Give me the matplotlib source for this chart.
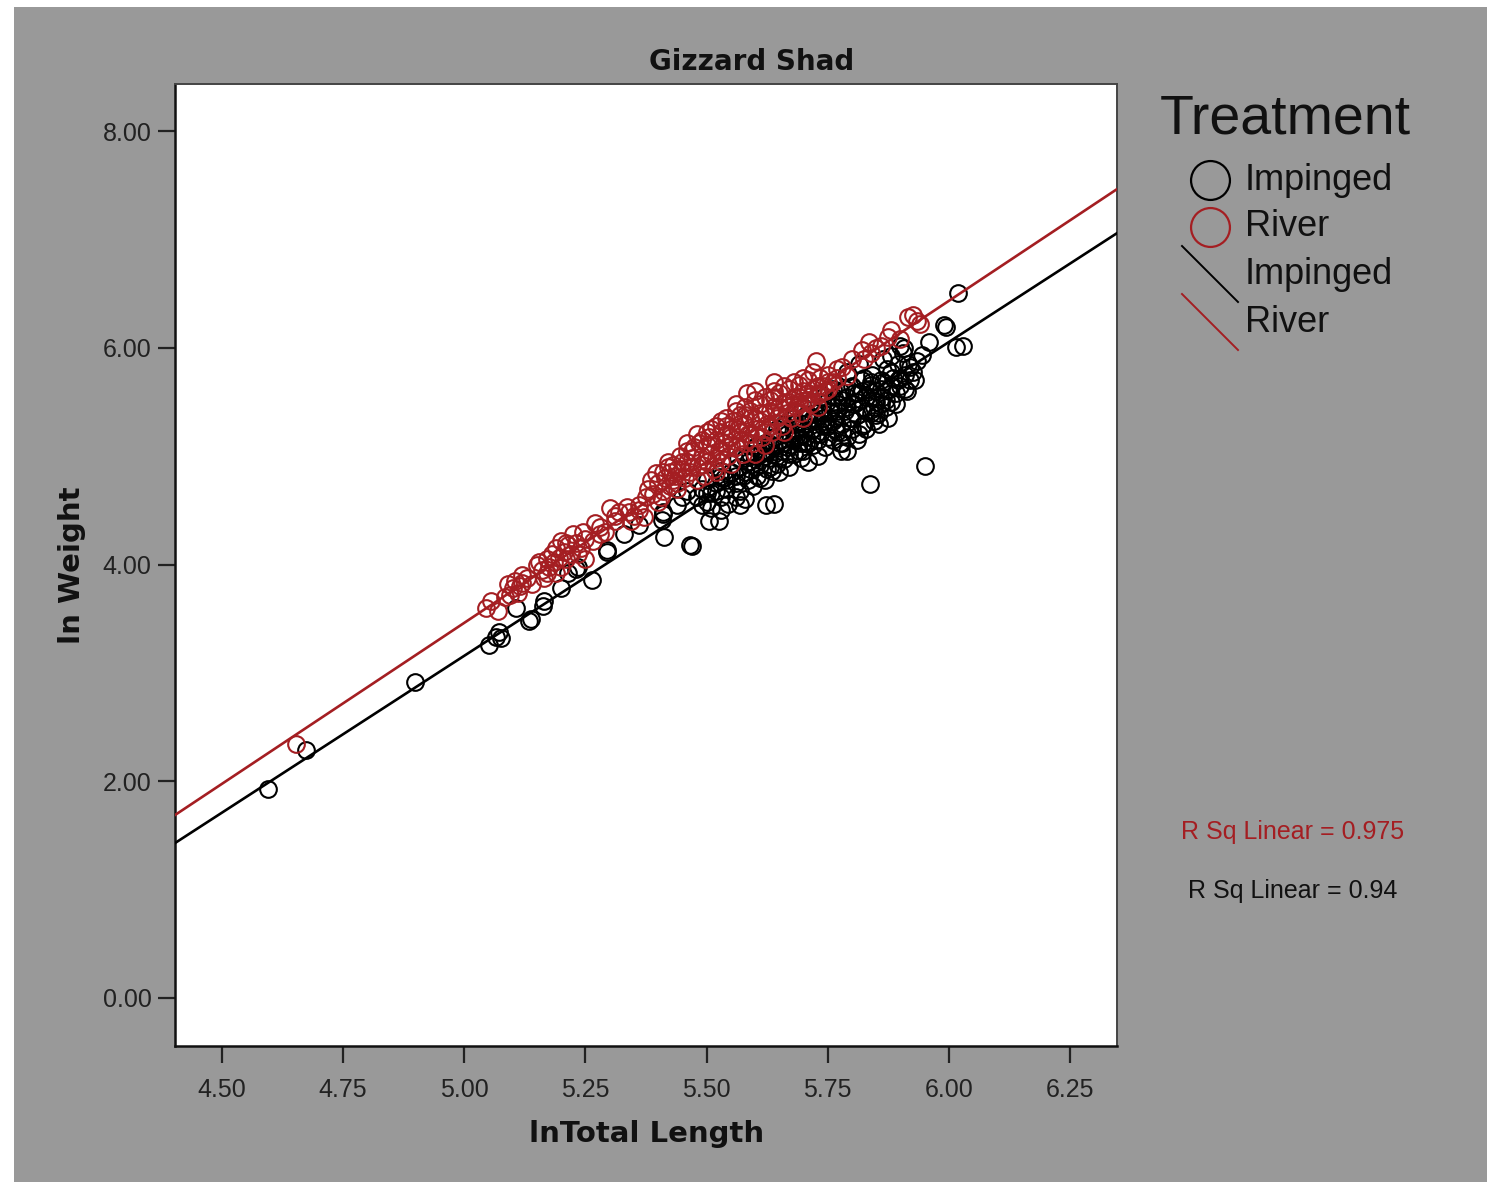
import matplotlib
matplotlib.use("Agg")
import matplotlib.pyplot as plt
from matplotlib.lines import Line2D
from matplotlib.patches import Rectangle
import numpy as np

# ---------------- data ----------------
title = "Gizzard Shad"
x_label = "lnTotal Length"
y_label = "ln Weight"
groups = ["Impinged", "River"]
x_ticks = [4.50, 4.75, 5.00, 5.25, 5.50, 5.75, 6.00, 6.25]
y_ticks = [0.00, 2.00, 4.00, 6.00, 8.00]
r_squared = {"River": "0.975", "Impinged": "0.94"}
# fitted lines (intercept at x=0, slope)
fit_intercept = {"Impinged": -11.317, "River": -11.393}
fit_slope = {"Impinged": 2.895, "River": 2.971}

imp_x = [4.595, 4.673, 4.898, 5.051, 5.066, 5.072, 5.075, 5.107, 5.134, 5.138, 5.162, 5.165,
         5.200, 5.215, 5.230, 5.264, 5.295, 5.330, 5.360, 5.408, 5.412, 5.410, 5.440, 5.450,
         5.470, 5.460, 5.480, 5.490, 5.500, 5.505, 5.525, 5.510, 5.520, 5.530, 5.535, 5.540,
         5.545, 5.550, 5.500, 5.530, 5.490, 5.510, 5.530, 5.560, 5.570, 5.560, 5.565, 5.570,
         5.575, 5.580, 5.585, 5.590, 5.595, 5.600, 5.605, 5.610, 5.615, 5.620, 5.622, 5.628,
         5.630, 5.635, 5.640, 5.640, 5.645, 5.650, 5.650, 5.655, 5.660, 5.665, 5.670, 5.672,
         5.680, 5.685, 5.690, 5.695, 5.700, 5.700, 5.705, 5.710, 5.712, 5.715, 5.720, 5.725,
         5.730, 5.730, 5.735, 5.740, 5.745, 5.748, 5.750, 5.755, 5.760, 5.762, 5.765, 5.770,
         5.772, 5.775, 5.780, 5.780, 5.785, 5.790, 5.790, 5.795, 5.800, 5.800, 5.805, 5.810,
         5.812, 5.815, 5.820, 5.820, 5.825, 5.830, 5.835, 5.840, 5.842, 5.845, 5.850, 5.850,
         5.776, 5.777, 5.838, 5.950, 5.855, 5.860, 5.865, 5.870, 5.872, 5.875, 5.880, 5.885,
         5.890, 5.895, 5.900, 5.905, 5.910, 5.913, 5.920, 5.930, 5.935, 5.945, 5.908, 5.900,
         5.990, 5.995, 6.015, 6.030, 6.019, 5.960, 5.925, 5.410, 5.466, 5.528, 5.295, 5.235,
         5.705, 5.725, 5.760, 5.790, 5.815, 5.840, 5.865, 5.880, 5.740, 5.700, 5.680, 5.660,
         5.580, 5.590, 5.600, 5.610, 5.620, 5.630, 5.640, 5.650, 5.660, 5.670, 5.680, 5.690,
         5.700, 5.710, 5.720, 5.730, 5.740, 5.750, 5.760, 5.770, 5.780, 5.790, 5.800, 5.810,
         5.820, 5.830, 5.840, 5.850, 5.860, 5.870, 5.880, 5.890, 5.900, 5.910, 5.920, 5.880,
         5.860, 5.840, 5.820, 5.800, 5.780, 5.760, 5.740, 5.720, 5.700, 5.680, 5.660, 5.640,
         5.620, 5.600, 5.580, 5.560, 5.540, 5.520, 5.500, 5.785, 5.805, 5.825, 5.845, 5.865,
         5.875, 5.895, 5.915, 5.765, 5.745, 5.725, 5.705, 5.685, 5.665, 5.645, 5.625, 5.605,
         5.585, 5.565, 5.810, 5.830, 5.855, 5.790]
imp_y = [1.93, 2.29, 2.92, 3.26, 3.33, 3.38, 3.32, 3.60, 3.48, 3.50, 3.62, 3.66,
         3.78, 3.92, 3.96, 3.86, 4.12, 4.28, 4.36, 4.41, 4.25, 4.48, 4.55, 4.62,
         4.17, 4.68, 4.62, 4.70, 4.58, 4.40, 4.40, 4.66, 4.75, 4.62, 4.80, 4.70,
         4.56, 4.85, 4.78, 4.86, 4.55, 4.52, 4.50, 4.62, 4.55, 4.75, 4.90, 4.68,
         4.82, 4.60, 4.95, 4.88, 4.72, 5.00, 4.82, 4.92, 5.05, 4.78, 4.55, 4.98,
         5.10, 4.86, 4.56, 5.02, 4.93, 5.15, 4.85, 5.05, 4.97, 5.20, 4.90, 5.10,
         5.02, 5.25, 5.12, 4.98, 5.30, 5.05, 5.18, 4.95, 5.38, 5.24, 5.10, 5.32,
         5.00, 5.45, 5.20, 5.35, 5.08, 5.50, 5.28, 5.42, 5.15, 5.55, 5.35, 5.22,
         5.48, 5.60, 5.30, 5.12, 5.42, 5.55, 5.05, 5.35, 5.65, 5.25, 5.48, 5.38,
         5.58, 5.20, 5.70, 5.45, 5.30, 5.55, 5.62, 5.40, 5.75, 5.32, 5.50, 5.60,
         5.12, 5.05, 4.74, 4.91, 5.40, 5.70, 5.55, 5.45, 5.80, 5.62, 5.50, 5.72,
         5.58, 5.85, 5.65, 5.95, 5.75, 5.60, 5.82, 5.70, 5.88, 5.93, 6.00, 6.02,
         6.21, 6.19, 6.01, 6.02, 6.51, 6.05, 5.78, 4.47, 4.18, 4.81, 4.13, 3.98,
         5.12, 5.40, 5.62, 5.78, 5.85, 5.68, 5.90, 5.92, 5.55, 5.45, 5.35, 5.30,
         4.85, 5.02, 4.90, 4.80, 5.00, 4.90, 5.08, 4.98, 5.12, 5.02, 5.15, 5.05,
         5.20, 5.12, 5.25, 5.15, 5.28, 5.18, 5.32, 5.42, 5.22, 5.45, 5.35, 5.50,
         5.28, 5.42, 5.55, 5.38, 5.62, 5.52, 5.65, 5.48, 5.72, 5.62, 5.70, 5.78,
         5.48, 5.66, 5.60, 5.48, 5.52, 5.45, 5.40, 5.35, 5.12, 5.30, 5.28, 5.18,
         5.12, 5.08, 4.98, 4.82, 4.78, 4.68, 4.66, 5.62, 5.58, 5.72, 5.45, 5.68,
         5.35, 5.70, 5.85, 5.25, 5.30, 5.20, 5.38, 5.18, 5.08, 5.25, 4.88, 5.10,
         4.78, 4.98, 5.15, 5.25, 5.30, 5.18]

riv_x = [4.653, 5.045, 5.055, 5.070, 5.085, 5.090, 5.100, 5.105, 5.110, 5.120, 5.140, 5.150,
         5.160, 5.165, 5.170, 5.175, 5.180, 5.185, 5.190, 5.195, 5.200, 5.200, 5.205, 5.210,
         5.215, 5.220, 5.225, 5.230, 5.240, 5.250, 5.265, 5.280, 5.290, 5.300, 5.310, 5.320,
         5.335, 5.345, 5.350, 5.360, 5.370, 5.375, 5.380, 5.390, 5.395, 5.400, 5.410, 5.415,
         5.420, 5.425, 5.430, 5.435, 5.440, 5.445, 5.450, 5.455, 5.460, 5.460, 5.465, 5.470,
         5.475, 5.480, 5.485, 5.490, 5.495, 5.500, 5.500, 5.505, 5.510, 5.515, 5.520, 5.525,
         5.530, 5.530, 5.535, 5.540, 5.545, 5.550, 5.555, 5.560, 5.565, 5.570, 5.570, 5.575,
         5.580, 5.584, 5.585, 5.590, 5.595, 5.600, 5.605, 5.610, 5.615, 5.620, 5.625, 5.630,
         5.635, 5.640, 5.645, 5.650, 5.655, 5.660, 5.665, 5.670, 5.675, 5.680, 5.685, 5.690,
         5.695, 5.700, 5.705, 5.710, 5.715, 5.720, 5.725, 5.730, 5.735, 5.740, 5.745, 5.750,
         5.760, 5.770, 5.780, 5.790, 5.800, 5.820, 5.825, 5.835, 5.840, 5.850, 5.860, 5.875,
         5.880, 5.900, 5.915, 5.925, 5.940, 5.935, 5.600, 5.620, 5.660, 5.700, 5.730, 5.550,
         5.520, 5.480, 5.440, 5.400, 5.360, 5.250, 5.120, 5.190, 5.540, 5.580, 5.640, 5.690,
         5.410, 5.430, 5.450, 5.470, 5.490, 5.510, 5.530, 5.550, 5.570, 5.590, 5.610, 5.630,
         5.650, 5.670, 5.690, 5.710, 5.730, 5.750, 5.770, 5.460, 5.480, 5.500, 5.520, 5.540,
         5.560, 5.580, 5.600, 5.620, 5.640, 5.660, 5.680, 5.700, 5.720, 5.440, 5.420, 5.470,
         5.490, 5.510, 5.530, 5.550, 5.570, 5.590, 5.610, 5.630, 5.650, 5.670, 5.690, 5.710,
         5.730, 5.750, 5.385, 5.405, 5.425, 5.340, 5.310, 5.280, 5.270, 5.235, 5.245, 5.210,
         5.170, 5.155, 5.130, 5.115, 5.095, 5.620, 5.580, 5.540, 5.520, 5.600, 5.560, 5.640]
riv_y = [2.34, 3.60, 3.66, 3.57, 3.70, 3.82, 3.78, 3.85, 3.74, 3.83, 3.82, 4.00,
         3.95, 3.88, 4.05, 3.98, 4.10, 4.02, 4.15, 4.06, 4.22, 3.98, 4.12, 4.05,
         4.18, 4.10, 4.28, 4.20, 4.15, 4.24, 4.22, 4.35, 4.30, 4.52, 4.40, 4.48,
         4.53, 4.40, 4.45, 4.50, 4.44, 4.62, 4.70, 4.65, 4.84, 4.75, 4.68, 4.80,
         4.90, 4.72, 4.92, 4.82, 4.75, 5.00, 4.88, 4.80, 5.05, 4.95, 4.85, 4.98,
         5.08, 4.90, 5.12, 5.00, 4.82, 5.10, 4.95, 5.18, 5.02, 4.88, 5.15, 5.05,
         5.22, 4.95, 5.12, 5.28, 5.00, 5.18, 5.32, 5.08, 5.25, 5.38, 5.15, 5.02,
         5.30, 5.58, 5.20, 5.42, 5.12, 5.35, 5.25, 5.48, 5.18, 5.40, 5.30, 5.52,
         5.22, 5.45, 5.35, 5.58, 5.28, 5.50, 5.40, 5.62, 5.35, 5.55, 5.45, 5.66,
         5.40, 5.60, 5.52, 5.70, 5.48, 5.62, 5.88, 5.56, 5.72, 5.65, 5.60, 5.75,
         5.68, 5.80, 5.82, 5.74, 5.90, 5.98, 5.90, 6.05, 5.95, 6.00, 6.02, 6.10,
         6.16, 6.08, 6.28, 6.30, 6.22, 6.25, 5.02, 5.10, 5.22, 5.35, 5.45, 4.93,
         4.85, 4.78, 4.70, 4.58, 4.55, 4.05, 3.90, 3.92, 5.20, 5.38, 5.55, 5.50,
         4.85, 4.78, 4.95, 5.05, 5.15, 5.10, 5.05, 5.25, 5.30, 5.20, 5.32, 5.42,
         5.45, 5.50, 5.55, 5.58, 5.65, 5.68, 5.72, 5.12, 5.20, 5.22, 5.28, 5.35,
         5.42, 5.45, 5.52, 5.55, 5.60, 5.65, 5.68, 5.72, 5.78, 4.88, 4.95, 4.90,
         4.92, 5.25, 5.32, 5.10, 5.22, 5.35, 5.40, 5.28, 5.38, 5.45, 5.48, 5.52,
         5.58, 5.62, 4.78, 4.62, 4.85, 4.48, 4.45, 4.28, 4.38, 4.10, 4.30, 4.20,
         3.92, 4.02, 3.88, 3.80, 3.72, 5.22, 5.12, 5.08, 4.98, 5.60, 5.48, 5.68]

# ---------------- style ----------------
RED = "#A41E22"
BLACK = "#000000"
BG = "#999999"
W, H = 1491, 1182
FONT = "Liberation Sans"

fig = plt.figure(figsize=(W / 100, H / 100), dpi=100, facecolor="white")
fig.patches.append(Rectangle((14 / W, 0), (1487 - 14) / W, 1 - 7 / H,
                             transform=fig.transFigure, facecolor=BG,
                             edgecolor="none", zorder=-10))

ax = fig.add_axes([175 / W, 1 - 1046 / H, (1117 - 175) / W, (1046 - 84) / H])
ax.set_facecolor("white")
ax.set_xlim(4.403, 6.347)
ax.set_ylim(-0.443, 8.434)

colors = {"Impinged": BLACK, "River": RED}
ax.plot(imp_x, imp_y, "o", mfc="none", mec=BLACK, ms=12, mew=1.5, zorder=2)
ax.plot(riv_x, riv_y, "o", mfc="none", mec=RED, ms=12, mew=1.5, zorder=3)

xl = np.array(ax.get_xlim())
for g in groups:
    ax.plot(xl, fit_intercept[g] + fit_slope[g] * xl, color=colors[g], lw=1.9, zorder=4)

ax.set_xticks(x_ticks)
ax.set_xticklabels([f"{v:.2f}" for v in x_ticks])
ax.set_yticks(y_ticks)
ax.set_yticklabels([f"{v:.2f}" for v in y_ticks])
ax.tick_params(direction="out", length=12, width=1.6, color="#222222",
               labelsize=18, labelcolor="#222222", pad=7)
ax.tick_params(axis="x", pad=11)
ax.tick_params(axis="y", pad=5)
for lab in ax.get_xticklabels() + ax.get_yticklabels():
    lab.set_fontfamily(FONT)
for s in ["left", "bottom"]:
    ax.spines[s].set_linewidth(1.8)
    ax.spines[s].set_color("#111111")
for s in ["top", "right"]:
    ax.spines[s].set_linewidth(1.4)
    ax.spines[s].set_color("#444444")

fig.text(752 / W, 1 - 62 / H, title, ha="center", va="center",
         fontsize=20, fontweight="bold", family="DejaVu Sans", color="#111111")
fig.text(647 / W, 1 - 1134 / H, x_label, ha="center", va="center",
         fontsize=21, fontweight="bold", family="DejaVu Sans", color="#111111")
fig.text(72 / W, 1 - 565 / H, y_label, ha="center", va="center", rotation=90,
         fontsize=21, fontweight="bold", family="DejaVu Sans", color="#111111")

# legend
fig.text(1160 / W, 1 - 120 / H, "Treatment", ha="left", va="center",
         fontsize=40, family=FONT, color="#111111")
leg_items = [("marker", "Impinged", BLACK, 180), ("marker", "River", RED, 227),
             ("line", "Impinged", BLACK, 274), ("line", "River", RED, 322)]
for kind, lab, col, yc in leg_items:
    if kind == "marker":
        fig.add_artist(Line2D([1210 / W], [1 - yc / H], marker="o", ms=28, mfc="none",
                              mec=col, mew=1.6, transform=fig.transFigure))
    else:
        fig.add_artist(Line2D([1182 / W, 1238 / W], [1 - (yc - 28) / H, 1 - (yc + 28) / H],
                              color=col, lw=1.4, transform=fig.transFigure))
    fig.text(1245 / W, 1 - yc / H, lab, ha="left", va="center",
             fontsize=26, family=FONT, color="#111111")

fig.text(1293 / W, 1 - 832 / H, f"R Sq Linear = {r_squared['River']}", ha="center",
         va="center", fontsize=18, family=FONT, color=RED)
fig.text(1293 / W, 1 - 891 / H, f"R Sq Linear = {r_squared['Impinged']}", ha="center",
         va="center", fontsize=18, family=FONT, color="#111111")

fig.savefig("out.png", dpi=100, facecolor="white")
